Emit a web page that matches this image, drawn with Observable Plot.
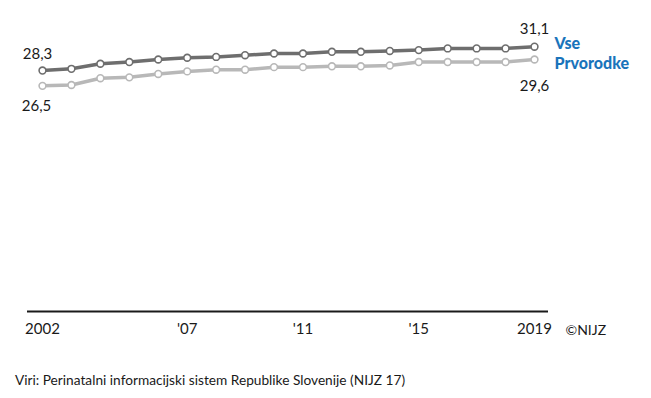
<!DOCTYPE html>
<html>
<head>
<meta charset="utf-8">
<script src="https://cdn.jsdelivr.net/npm/d3@7"></script>
<script src="https://cdn.jsdelivr.net/npm/@observablehq/plot@0.6"></script>
<style>
  body { margin: 0; background: #fff; font-family: Lato, sans-serif; }
  #chart svg { display: block; }
  #caption { padding: 25px 0 0 15px; font-size: 13.7px; line-height: 20px; color: #1a1a1a; }
</style>
</head>
<body>
<div id="chart"></div>
<div id="caption">Viri: Perinatalni informacijski sistem Republike Slovenije (NIJZ 17)</div>
<script>
const years = [2002, 2003, 2004, 2005, 2006, 2007, 2008, 2009, 2010, 2011, 2012, 2013, 2014, 2015, 2016, 2017, 2018, 2019];
const vse = [28.3, 28.5, 29.1, 29.3, 29.6, 29.8, 29.9, 30.1, 30.3, 30.3, 30.5, 30.5, 30.6, 30.7, 30.9, 30.9, 30.9, 31.1];
const prvorodke = [26.5, 26.6, 27.4, 27.5, 27.9, 28.2, 28.4, 28.4, 28.7, 28.7, 28.8, 28.8, 28.9, 29.3, 29.3, 29.3, 29.3, 29.6];
const seriesNames = ["Vse", "Prvorodke"];
const tickYears = [2002, 2007, 2011, 2015, 2019];
const tickLabels = ["2002", "'07", "'11", "'15", "2019"];
const credit = "©NIJZ";

const dark = "#6e6e6e", light = "#b8b8b8", blue = "#1a74bb", ink = "#1a1a1a";
const rowsVse = years.map((year, i) => ({year, value: vse[i]}));
const rowsPrv = years.map((year, i) => ({year, value: prvorodke[i]}));
const fmt = v => v.toFixed(1).replace(".", ",");

const chart = Plot.plot({
  width: 651,
  height: 345,
  marginLeft: 27,
  marginRight: 103,
  marginTop: 13,
  marginBottom: 34,
  insetLeft: 15,
  insetRight: 14,
  style: {fontFamily: "Lato, sans-serif", fontSize: "15px", color: ink, background: "#fff"},
  x: {type: "linear", domain: [2002, 2019], label: null},
  y: {domain: [0, 35], axis: null},
  marks: [
    Plot.ruleY([0], {stroke: ink, strokeWidth: 2}),
    Plot.axisX({ticks: tickYears, tickFormat: d => tickLabels[tickYears.indexOf(d)], tickSize: 0, tickPadding: 12, fontSize: 15, fill: ink, label: null}),
    Plot.line(rowsPrv, {x: "year", y: "value", stroke: light, strokeWidth: 3.5}),
    Plot.line(rowsVse, {x: "year", y: "value", stroke: dark, strokeWidth: 3.5}),
    Plot.dot(rowsPrv, {x: "year", y: "value", r: 3.4, fill: "white", stroke: light, strokeWidth: 1.6}),
    Plot.dot(rowsVse, {x: "year", y: "value", r: 3.4, fill: "white", stroke: dark, strokeWidth: 1.6}),
    // value labels
    Plot.text([rowsVse[0]], {x: "year", y: "value", text: d => fmt(d.value), dx: -5, dy: -12, lineAnchor: "bottom", fontSize: 15, fill: ink}),
    Plot.text([rowsPrv[0]], {x: "year", y: "value", text: d => fmt(d.value), dx: -6, dy: 25, lineAnchor: "bottom", fontSize: 15, fill: ink}),
    Plot.text([rowsVse[rowsVse.length - 1]], {x: "year", y: "value", text: d => fmt(d.value), dy: -13, lineAnchor: "bottom", fontSize: 15, fill: ink}),
    Plot.text([rowsPrv[rowsPrv.length - 1]], {x: "year", y: "value", text: d => fmt(d.value), dy: 32, lineAnchor: "bottom", fontSize: 15, fill: ink}),
    // series labels
    Plot.text([rowsVse[rowsVse.length - 1]], {x: "year", y: "value", text: () => seriesNames[0], dx: 20, dy: 2, textAnchor: "start", lineAnchor: "bottom", fontSize: 16, fontWeight: 900, fill: blue}),
    Plot.text([rowsPrv[rowsPrv.length - 1]], {x: "year", y: "value", text: () => seriesNames[1], dx: 20, dy: 10, textAnchor: "start", lineAnchor: "bottom", fontSize: 16, fontWeight: 900, fill: blue}),
    // credit
    Plot.text([credit], {frameAnchor: "bottom-right", text: d => d, dx: 17, dy: 23, textAnchor: "start", lineAnchor: "bottom", fontSize: 14, fill: ink})
  ]
});
document.getElementById("chart").append(chart);
</script>
</body>
</html>
